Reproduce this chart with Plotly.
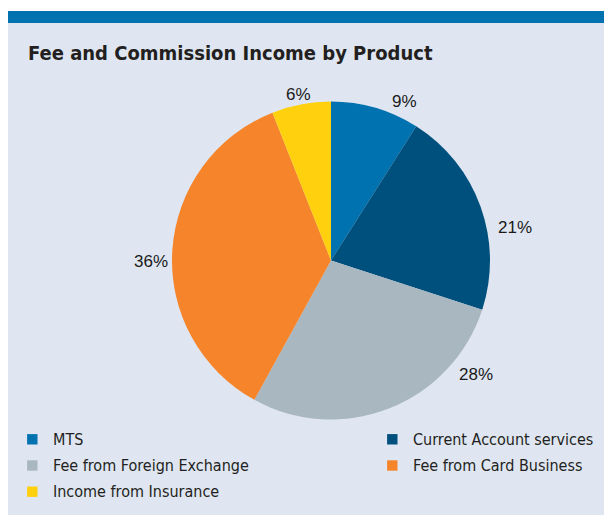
import math
import plotly.graph_objects as go

W, H = 612, 515

categories = ["MTS", "Current Account services", "Fee from Foreign Exchange",
              "Fee from Card Business", "Income from Insurance"]
values = [9, 21, 28, 36, 6]
colors = ["#0072b0", "#00507e", "#a9b7c1", "#f5842a", "#ffd00d"]

title_text = "Fee and Commission Income by Product"

# placement of the percentage labels around the pie (degrees clockwise from 12 o'clock, px from centre)
label_angle = [24.8, 79.7, 128.2, 269.7, 348.8]
label_radius = [175, 187, 184, 180, 169]

FONT = "'Liberation Sans Narrow', 'DejaVu Sans Condensed', Arial, sans-serif"
LABEL_FONT = "Arial, 'Liberation Sans', sans-serif"


def px(x):
    return x / W


def py(y):
    return 1 - y / H


cx, cy, r = 323, 252.5, 159

fig = go.Figure(go.Pie(
    labels=categories,
    values=values,
    marker=dict(colors=colors, line=dict(width=0)),
    sort=False,
    direction="clockwise",
    rotation=0,
    textinfo="none",
    domain=dict(x=[px(cx - r), px(cx + r)], y=[py(cy + r), py(cy - r)]),
    hoverinfo="label+percent",
    showlegend=False,
))

shapes = [
    dict(type="rect", xref="paper", yref="paper", x0=0, x1=1, y0=0, y1=py(15),
         fillcolor="#dfe6f1", line=dict(width=0), layer="below"),
    dict(type="rect", xref="paper", yref="paper", x0=0, x1=1, y0=py(15), y1=py(3),
         fillcolor="#0072b0", line=dict(width=0), layer="below"),
]

annotations = [dict(
    text="<b>" + title_text + "</b>", xref="paper", yref="paper",
    x=px(17.5), y=py(44.5), xanchor="left", yanchor="middle", showarrow=False,
    font=dict(family=FONT, size=20, color="#231f20"),
)]

# percentage labels
total = sum(values)
for v, a, rr in zip(values, label_angle, label_radius):
    ang = math.radians(a)
    lx = cx + rr * math.sin(ang)
    ly = cy - rr * math.cos(ang)
    annotations.append(dict(
        text=f"{round(100 * v / total)}%", xref="paper", yref="paper",
        x=px(lx), y=py(ly), xanchor="center", yanchor="middle", showarrow=False,
        font=dict(family=LABEL_FONT, size=17, color="#1a1a1a"),
    ))

# legend (row-major, two columns)
col_x = [24.3, 384.3]
row_y = [431.3, 457.5, 483.7]
half = 5.2
for i, (lab, col) in enumerate(zip(categories, colors)):
    lx = col_x[i % 2]
    ly = row_y[i // 2]
    shapes.append(dict(type="rect", xref="paper", yref="paper",
                       x0=px(lx - half), x1=px(lx + half), y0=py(ly + half), y1=py(ly - half),
                       fillcolor=col, line=dict(width=0)))
    annotations.append(dict(text=lab, xref="paper", yref="paper",
                            x=px(lx + 18.5), y=py(ly), xanchor="left", yanchor="middle",
                            showarrow=False,
                            font=dict(family=FONT, size=16, color="#231f20")))

fig.update_layout(
    width=W, height=H,
    margin=dict(l=0, r=0, t=0, b=0),
    paper_bgcolor="white",
    plot_bgcolor="rgba(0,0,0,0)",
    shapes=shapes,
    annotations=annotations,
    showlegend=False,
)

fig.write_html("out.html")
